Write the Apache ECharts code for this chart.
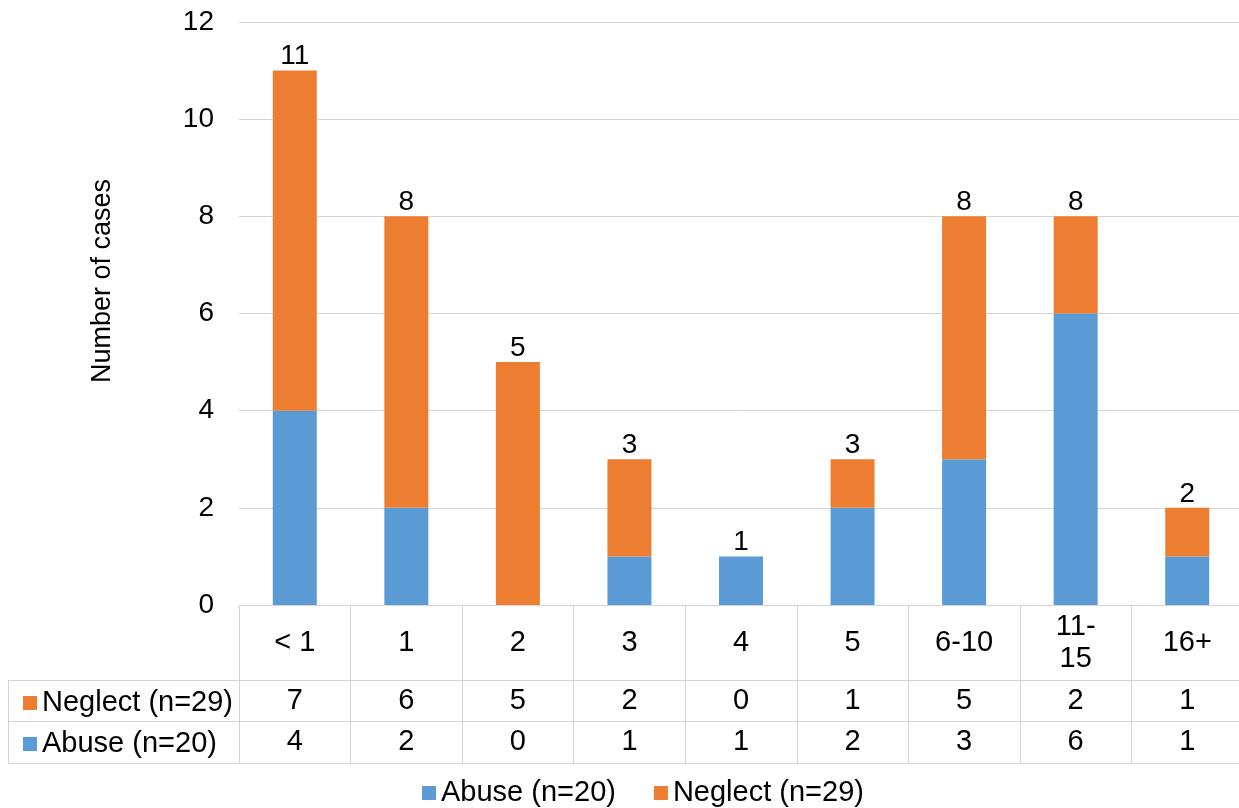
<!DOCTYPE html>
<html>
<head>
<meta charset="utf-8">
<script src="https://cdn.jsdelivr.net/npm/echarts@6/dist/echarts.min.js"></script>
<style>
html,body{margin:0;padding:0;background:#fff;}
#c{width:1239px;height:808px;}
</style>
</head>
<body>
<div id="c"></div>
<script>
const categories = ['< 1', '1', '2', '3', '4', '5', '6-10', '11-15', '16+'];
const abuse = [4, 2, 0, 1, 1, 2, 3, 6, 1];
const neglect = [7, 6, 5, 2, 0, 1, 5, 2, 1];
const abuseName = 'Abuse (n=20)';
const neglectName = 'Neglect (n=29)';
const yMin = 0, yMax = 12, yStep = 2;
const yTitle = 'Number of cases';

const FONT = "'Liberation Sans', Arial, sans-serif";
const FS = 28;
const FS_T = 29;
const BLUE = '#5B9BD5';
const ORANGE = '#ED7D31';
const LINE = '#d4d4d4';
const TXT = '#000000';

const chart = echarts.init(document.getElementById('c'), null, {renderer: 'canvas'});

const gridLeft = 239, gridTop = 22, gridH = 583, gridW = 1004;
const tableBottom = 763;

const valueAxis = (idx, arr, margin) => ({
  type: 'category', data: categories, position: 'bottom', gridIndex: 0,
  axisLine: {show: false}, axisTick: {show: false},
  axisLabel: {
    interval: 0, margin: margin, verticalAlign: 'middle',
    fontFamily: FONT, fontSize: FS_T, color: TXT,
    formatter: (v, i) => String(arr[i])
  }
});

chart.setOption({
  animation: false,
  backgroundColor: '#fff',
  textStyle: {fontFamily: FONT},
  grid: {left: gridLeft, top: gridTop, width: gridW, height: gridH, containLabel: false, outerBoundsMode: 'none'},
  legend: [
    {
      data: [abuseName, neglectName], selectedMode: false,
      left: 417, top: 773, orient: 'horizontal',
      icon: 'rect', itemWidth: 14, itemHeight: 14, itemGap: 38,
      textStyle: {fontFamily: FONT, fontSize: FS_T, color: TXT, lineHeight: 30}
    },
    {
      data: [neglectName, abuseName], selectedMode: false,
      left: 18, top: 683, orient: 'vertical',
      icon: 'rect', itemWidth: 14, itemHeight: 14, itemGap: 11,
      textStyle: {fontFamily: FONT, fontSize: FS_T, color: TXT, lineHeight: 30}
    }
  ],
  xAxis: [
    {
      type: 'category', data: categories, position: 'bottom', gridIndex: 0,
      axisLine: {show: true, lineStyle: {color: LINE, width: 1}},
      axisTick: {show: true, interval: 0, length: tableBottom - (gridTop + gridH), lineStyle: {color: LINE, width: 1}},
      axisLabel: {
        interval: 0, margin: 38, verticalAlign: 'middle', align: 'center',
        fontFamily: FONT, fontSize: FS_T, color: TXT, lineHeight: 32,
        formatter: v => (v === '11-15' ? '11-\n15' : v)
      }
    },
    valueAxis(1, neglect, 96),
    valueAxis(2, abuse, 137)
  ],
  yAxis: {
    type: 'value', min: yMin, max: yMax, interval: yStep,
    axisLine: {show: false}, axisTick: {show: false},
    splitLine: {show: true, lineStyle: {color: LINE, width: 1}},
    axisLabel: {margin: 25, fontFamily: FONT, fontSize: FS, color: TXT}
  },
  series: [
    {
      name: abuseName, type: 'bar', stack: 'total', xAxisIndex: 0,
      data: abuse, barWidth: 44,
      itemStyle: {color: BLUE}
    },
    {
      name: neglectName, type: 'bar', stack: 'total', xAxisIndex: 0,
      data: neglect, barWidth: 44,
      itemStyle: {color: ORANGE},
      label: {
        show: true, position: 'top', distance: 0,
        fontFamily: FONT, fontSize: FS, color: TXT,
        formatter: p => String(abuse[p.dataIndex] + neglect[p.dataIndex])
      }
    }
  ],
  graphic: [
    {type: 'line', silent: true, shape: {x1: 8, y1: 680.5, x2: 1239, y2: 680.5}, style: {stroke: LINE, lineWidth: 1}},
    {type: 'line', silent: true, shape: {x1: 8, y1: 721.5, x2: 1239, y2: 721.5}, style: {stroke: LINE, lineWidth: 1}},
    {type: 'line', silent: true, shape: {x1: 8, y1: 763.5, x2: 1239, y2: 763.5}, style: {stroke: LINE, lineWidth: 1}},
    {type: 'line', silent: true, shape: {x1: 8.5, y1: 680, x2: 8.5, y2: 764}, style: {stroke: LINE, lineWidth: 1}},
    {
      type: 'text', silent: true, x: 103, y: 281, rotation: Math.PI / 2,
      style: {text: yTitle, fontFamily: FONT, fontSize: 27, fill: TXT, align: 'center', verticalAlign: 'middle'}
    }
  ]
});
</script>
</body>
</html>
